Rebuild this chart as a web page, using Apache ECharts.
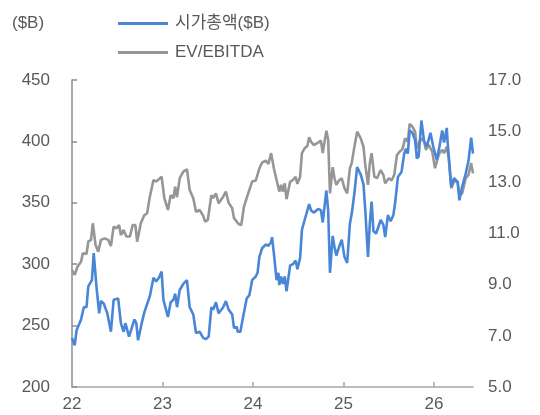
<!DOCTYPE html>
<html>
<head>
<meta charset="utf-8">
<script src="https://cdn.jsdelivr.net/npm/echarts@6/dist/echarts.min.js"></script>
<style>html,body{margin:0;padding:0;background:#fff}#c{width:540px;height:415px}</style>
</head>
<body>
<div id="c"></div>
<script>
// X positions: years since start of 2022
const yearTicks = [22, 23, 24, 25, 26];
const leftUnit = '($B)';
const seriesNames = ['시가총액($B)', 'EV/EBITDA'];

const capT = [0.00,0.03,0.05,0.10,0.13,0.16,0.18,0.22,0.24,0.27,0.30,0.32,0.35,0.39,0.43,0.46,0.51,0.54,0.57,0.59,0.63,0.65,0.69,0.71,0.73,0.77,0.80,0.82,0.86,0.90,0.93,0.96,0.99,1.01,1.06,1.09,1.12,1.14,1.16,1.19,1.23,1.27,1.30,1.34,1.37,1.41,1.45,1.48,1.51,1.54,1.56,1.59,1.62,1.67,1.70,1.73,1.77,1.79,1.82,1.83,1.86,1.89,1.93,1.96,1.99,2.03,2.05,2.07,2.10,2.14,2.17,2.20,2.21,2.23,2.26,2.28,2.29,2.31,2.33,2.35,2.37,2.41,2.44,2.47,2.49,2.52,2.54,2.57,2.59,2.62,2.64,2.67,2.69,2.72,2.75,2.77,2.79,2.81,2.83,2.85,2.88,2.90,2.92,2.95,2.98,3.01,3.04,3.07,3.09,3.12,3.15,3.19,3.22,3.24,3.27,3.29,3.31,3.33,3.36,3.38,3.41,3.44,3.46,3.49,3.52,3.55,3.57,3.60,3.64,3.67,3.69,3.71,3.73,3.76,3.79,3.81,3.83,3.86,3.89,3.92,3.96,3.99,4.03,4.06,4.09,4.11,4.14,4.15,4.19,4.22,4.26,4.28,4.31,4.35,4.38,4.41,4.43];
const capV = [240,234,246,255,265,265,282,287,309,282,260,270,268,260,245,271,272,252,245,252,241,241,255,252,238,252,261,260,274,289,286,289,294,271,257,269,271,276,265,279,284,287,265,259,244,245,240,239,241,265,263,269,260,265,270,263,259,248,249,245,245,257,272,275,287,290,293,306,313,316,315,318,322,309,287,293,283,290,284,290,278,299,300,303,296,305,328,336,337,349,344,342,343,345,344,334,333,360,344,293,323,314,307,314,320,306,301,333,341,358,379,373,365,344,306,333,351,327,325,324,336,332,322,340,335,340,350,371,375,390,394,390,409,407,401,386,388,417,400,396,407,396,385,396,409,399,411,399,363,370,367,352,363,374,384,403,390];

const evT = [0.00,0.03,0.06,0.10,0.12,0.16,0.18,0.21,0.23,0.26,0.29,0.32,0.36,0.40,0.43,0.46,0.49,0.52,0.54,0.57,0.60,0.64,0.67,0.70,0.72,0.76,0.80,0.83,0.86,0.90,0.93,0.96,0.99,1.02,1.06,1.09,1.12,1.14,1.16,1.19,1.23,1.27,1.30,1.34,1.37,1.41,1.45,1.47,1.50,1.54,1.56,1.59,1.62,1.67,1.70,1.73,1.77,1.79,1.81,1.84,1.87,1.90,1.94,1.96,1.99,2.03,2.05,2.07,2.10,2.14,2.17,2.20,2.22,2.23,2.26,2.28,2.29,2.31,2.33,2.35,2.37,2.41,2.44,2.47,2.49,2.52,2.54,2.57,2.60,2.62,2.64,2.67,2.69,2.72,2.75,2.77,2.79,2.81,2.83,2.85,2.88,2.90,2.92,2.95,2.98,3.01,3.04,3.07,3.09,3.12,3.15,3.19,3.22,3.24,3.27,3.29,3.31,3.34,3.37,3.41,3.44,3.46,3.50,3.53,3.56,3.59,3.62,3.65,3.68,3.71,3.73,3.76,3.79,3.81,3.84,3.87,3.89,3.91,3.94,3.98,4.01,4.04,4.06,4.09,4.11,4.14,4.16,4.19,4.22,4.26,4.28,4.31,4.35,4.38,4.41,4.43];
const evV = [9.57,9.38,9.70,9.90,10.23,10.20,10.68,10.75,11.40,10.55,10.29,10.75,10.81,10.75,10.51,11.27,11.20,11.33,10.94,11.14,10.88,10.88,11.33,11.33,10.68,11.40,11.72,11.79,12.44,13.09,13.03,13.12,13.22,12.38,11.92,12.50,12.38,12.83,12.42,13.16,13.42,13.51,12.70,12.38,11.85,11.92,11.69,11.46,11.53,12.50,12.38,12.57,12.18,12.44,12.64,12.20,11.99,11.60,11.60,11.37,11.33,12.05,12.50,12.57,13.03,13.07,13.09,13.55,13.77,13.85,13.72,14.14,14.16,13.55,13.09,13.16,12.64,12.90,12.64,12.96,12.34,13.03,13.09,13.22,12.94,13.22,14.14,14.33,14.42,14.76,14.59,14.46,14.42,14.55,14.63,14.14,14.20,15.02,14.66,12.57,13.59,13.16,12.90,13.07,13.16,12.77,12.57,13.55,13.75,14.39,14.98,14.72,14.39,13.68,12.90,13.75,14.14,13.22,13.16,13.48,13.29,12.96,13.16,13.07,13.29,14.07,14.20,14.29,14.72,14.59,15.28,15.18,14.98,14.33,14.59,14.72,14.59,14.27,14.46,14.20,13.55,13.94,14.14,14.27,14.14,14.39,14.00,12.77,13.03,13.03,12.50,12.57,13.16,13.29,13.75,13.35];

const FONT = '"Liberation Sans", Arial, "Noto Sans CJK KR", sans-serif';
const TXT = '#595959';
const chart = echarts.init(document.getElementById('c'), null, {renderer: 'canvas'});
chart.setOption({
  animation: false,
  backgroundColor: '#fff',
  textStyle: {fontFamily: FONT},
  grid: {left: 72, right: 67, top: 80, bottom: 28, containLabel: false},
  graphic: [{type: 'text', left: 12, top: 15, style: {text: leftUnit, font: '17px ' + FONT, fill: TXT}}],
  legend: {
    orient: 'vertical', left: 118, top: 15, padding: 0, itemWidth: 50, itemHeight: 3, itemGap: 12,
    textStyle: {fontSize: 17, color: TXT, fontFamily: FONT, padding: [0, 0, 0, 2]},
    data: seriesNames.map(n => ({name: n, icon: 'rect'}))
  },
  xAxis: {
    type: 'value', min: 22, max: 22 + capT[capT.length - 1],
    axisLine: {lineStyle: {color: '#a6a6a6', width: 1.5}},
    axisTick: {inside: true, length: 5, customValues: yearTicks, lineStyle: {color: '#a6a6a6', width: 1.5}},
    axisLabel: {customValues: yearTicks, formatter: v => String(v), fontSize: 17, color: TXT, margin: 9, fontFamily: FONT},
    splitLine: {show: false}
  },
  yAxis: [{
    type: 'value', min: 200, max: 450, interval: 50,
    axisLine: {show: true, lineStyle: {color: '#8c8c8c', width: 1.5}},
    axisTick: {show: true, inside: true, length: 5, lineStyle: {color: '#8c8c8c', width: 1.5}},
    axisLabel: {fontSize: 17, color: TXT, margin: 22, fontFamily: FONT},
    splitLine: {show: false}
  }, {
    type: 'value', min: 5, max: 17, interval: 2, position: 'right',
    axisLine: {show: false}, axisTick: {show: false},
    axisLabel: {fontSize: 17, color: TXT, margin: 15, formatter: v => v.toFixed(1), fontFamily: FONT},
    splitLine: {show: false}
  }],
  series: [{
    name: seriesNames[0], type: 'line', yAxisIndex: 0, symbol: 'none', z: 3,
    lineStyle: {color: '#4a86d8', width: 2.6}, itemStyle: {color: '#4a86d8'},
    data: capT.map((t, i) => [22 + t, capV[i]])
  }, {
    name: seriesNames[1], type: 'line', yAxisIndex: 1, symbol: 'none', z: 2,
    lineStyle: {color: '#969696', width: 2.6}, itemStyle: {color: '#969696'},
    data: evT.map((t, i) => [22 + t, evV[i]])
  }]
});
</script>
</body>
</html>
